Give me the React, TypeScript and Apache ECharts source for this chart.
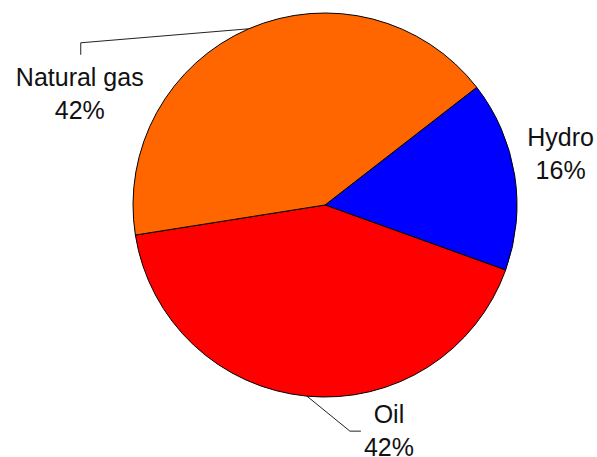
import React, { useEffect, useRef } from "react";
import * as echarts from "echarts";

const categories = ["Hydro", "Oil", "Natural gas"];
const values = [16, 42, 42];
const colors = ["#0000FF", "#FF0000", "#FF6600"];

export default function App() {
  const ref = useRef<HTMLDivElement>(null);
  useEffect(() => {
    if (!ref.current) return;
    const chart = echarts.init(ref.current, null, { renderer: "svg" });
    // label offsets relative to the slice's outer-edge point (x, y)
    const layouts: Record<string, { lx: number; ly: number; line: number[][] | null }> = {
      Hydro: { lx: 46, ly: -21, line: null },
      Oil: { lx: 82, ly: 34, line: [[0, 0], [43, 35], [54, 35]] },
      "Natural gas": { lx: -169, ly: 65, line: [[0, 0], [-168, 14], [-168, 26]] },
    };
    chart.setOption({
      animation: false,
      backgroundColor: "#ffffff",
      series: [
        {
          type: "pie",
          center: [325, 205],
          radius: [0, 192],
          startAngle: 37.8,
          clockwise: true,
          avoidLabelOverlap: false,
          itemStyle: { borderColor: "#000000", borderWidth: 1 },
          label: {
            show: true,
            position: "outside",
            formatter: "{b}\n{c}%",
            fontFamily: "Liberation Sans, Arial, sans-serif",
            fontSize: 25,
            lineHeight: 33,
            color: "#111111",
            align: "center",
          },
          labelLine: {
            show: true,
            length: 10,
            length2: 10,
            smooth: false,
            lineStyle: { color: "#222222", width: 1 },
          },
          labelLayout: (params: any) => {
            const name = categories[params.dataIndex];
            const cfg = layouts[name];
            const p0 = params.labelLinePoints ? params.labelLinePoints[0] : [0, 0];
            const out: any = {
              x: p0[0] + cfg.lx,
              y: p0[1] + cfg.ly,
              align: "center",
              verticalAlign: "middle",
            };
            if (cfg.line) {
              out.labelLinePoints = cfg.line.map((q) => [p0[0] + q[0], p0[1] + q[1]]);
            }
            return out;
          },
          data: categories.map((c, i) => ({
            name: c,
            value: values[i],
            itemStyle: { color: colors[i] },
            labelLine: { show: c !== "Hydro" },
          })),
        },
      ],
    });
    return () => chart.dispose();
  }, []);
  return (
    <div
      ref={ref}
      style={{ position: "fixed", left: 0, top: 0, width: 597, height: 457 }}
    />
  );
}
